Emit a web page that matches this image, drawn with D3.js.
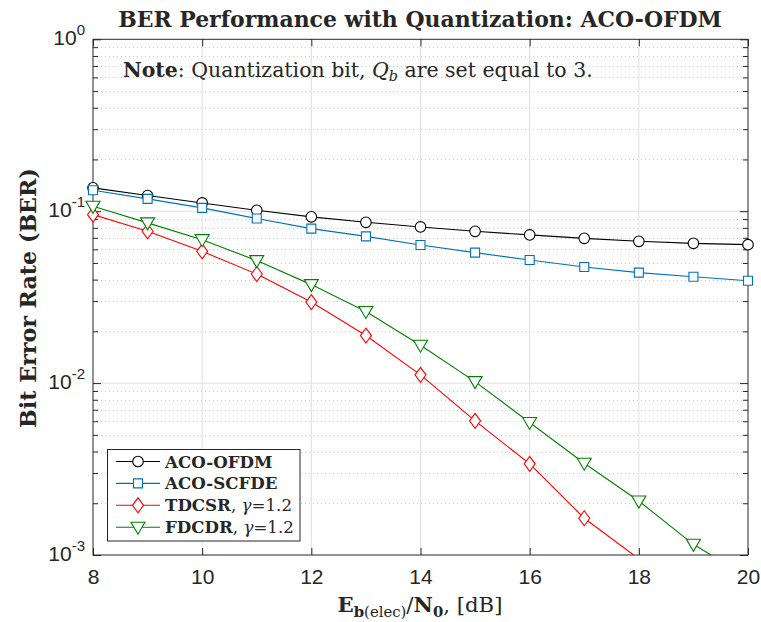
<!DOCTYPE html>
<html>
<head>
<meta charset="utf-8">
<script src="https://cdn.jsdelivr.net/npm/d3@7"></script>
<style>
  body { margin: 0; background: #fff; }
  .serif { font-family: "DejaVu Serif", "Liberation Serif", serif; fill: #262626; }
</style>
</head>
<body>
<div id="vis-container"></div>
<script>
// data
var snr = [8, 9, 10, 11, 12, 13, 14, 15, 16, 17, 18, 19, 20];
var acoOfdm = [0.1367, 0.1233, 0.1117, 0.1012, 0.0927, 0.0862, 0.0810, 0.0764, 0.0728, 0.0695, 0.0668, 0.0650, 0.0639];
var acoScfde = [0.1323, 0.1179, 0.1045, 0.0906, 0.0792, 0.0714, 0.0636, 0.0574, 0.0520, 0.0474, 0.0439, 0.0416, 0.0394];
var tdcsr = [0.0955, 0.0764, 0.0584, 0.0431, 0.0296, 0.0189, 0.01117, 0.00603, 0.00339, 0.001636, 0.00095];
var fdcdr = [0.1068, 0.0855, 0.0683, 0.0516, 0.0374, 0.0261, 0.0166, 0.0102, 0.0059, 0.00342, 0.00206, 0.001154, 0.00074];
var xTicks = [8, 10, 12, 14, 16, 18, 20];
var yTicks = [1e-3, 1e-2, 1e-1, 1];
var yTickExp = ["-3", "-2", "-1", "0"];

var series = [
    {name: "ACO-OFDM", suffix: false, values: acoOfdm, color: "#000000", marker: "circle"},
    {name: "ACO-SCFDE", suffix: false, values: acoScfde, color: "#0072BD", marker: "square"},
    {name: "TDCSR", suffix: true, values: tdcsr, color: "#ff0000", marker: "diamond"},
    {name: "FDCDR", suffix: true, values: fdcdr, color: "#008000", marker: "triangle"}
];

var width = 761, height = 622;
var plot = {left: 93, right: 748, top: 39.3, bottom: 555};

var svg = d3.select("#vis-container").append("svg")
    .attr("width", width).attr("height", height);

var xScale = d3.scaleLinear().domain([8, 20]).range([plot.left, plot.right]);
var yScale = d3.scaleLog().domain([1e-3, 1]).range([plot.bottom, plot.top]);

// minor values for log grid
var minorVals = [];
for (var e = -3; e < 0; e++) {
    for (var m = 2; m <= 9; m++) minorVals.push(m * Math.pow(10, e));
}

// scale font size of a text so that it has the wanted width
function fitText(sel, target) {
    var fs = parseFloat(sel.attr("font-size"));
    var w = sel.node().getComputedTextLength();
    var nfs = fs * target / w;
    sel.attr("font-size", nfs.toFixed(2));
    return nfs;
}

// grid
var grid = svg.append("g");
grid.selectAll(".gx").data(xTicks.slice(1, -1)).enter().append("line")
    .attr("x1", d => xScale(d)).attr("x2", d => xScale(d))
    .attr("y1", plot.top).attr("y2", plot.bottom)
    .attr("stroke", "#dfdfdf").attr("stroke-width", 1);
grid.selectAll(".gy").data(yTicks.slice(1, -1)).enter().append("line")
    .attr("x1", plot.left).attr("x2", plot.right)
    .attr("y1", d => yScale(d)).attr("y2", d => yScale(d))
    .attr("stroke", "#dfdfdf").attr("stroke-width", 1);
grid.selectAll(".gm").data(minorVals).enter().append("line")
    .attr("x1", plot.left).attr("x2", plot.right)
    .attr("y1", d => Math.round(yScale(d)) + 0.5).attr("y2", d => Math.round(yScale(d)) + 0.5)
    .attr("stroke", "#cccccc").attr("stroke-width", 1).attr("stroke-dasharray", "1,3");

// axes (ticks pointing inwards)
var axisColor = "#262626";
function styleAxis(g) {
    g.select(".domain").remove();
    g.selectAll("line").attr("stroke", axisColor);
}
svg.append("g").attr("transform", "translate(0," + plot.bottom + ")")
    .call(d3.axisBottom(xScale).tickValues(xTicks).tickSize(-7).tickPadding(14).tickFormat(d3.format("d")))
    .call(styleAxis)
    .call(g => g.selectAll("text").attr("font-size", 21).attr("fill", axisColor).attr("dy", "0.71em")
        .attr("font-family", "Liberation Sans, Arial, sans-serif"));
svg.append("g").attr("transform", "translate(0," + plot.top + ")")
    .call(d3.axisTop(xScale).tickValues(xTicks).tickSize(-7).tickFormat(""))
    .call(styleAxis);
svg.append("g").attr("transform", "translate(" + plot.left + ",0)")
    .call(d3.axisLeft(yScale).tickValues(yTicks).tickSize(-8).tickFormat(""))
    .call(styleAxis);
svg.append("g").attr("transform", "translate(" + plot.left + ",0)")
    .call(d3.axisLeft(yScale).tickValues(minorVals).tickSize(-5).tickFormat(""))
    .call(styleAxis);
svg.append("g").attr("transform", "translate(" + plot.right + ",0)")
    .call(d3.axisRight(yScale).tickValues(yTicks).tickSize(-8).tickFormat(""))
    .call(styleAxis);
svg.append("g").attr("transform", "translate(" + plot.right + ",0)")
    .call(d3.axisRight(yScale).tickValues(minorVals).tickSize(-5).tickFormat(""))
    .call(styleAxis);

// y tick labels as 10^n
var yLab = svg.append("g").selectAll("text").data(yTicks).enter().append("text")
    .attr("x", plot.left - 8).attr("y", d => yScale(d) + 6)
    .attr("text-anchor", "end").attr("font-size", 21).attr("fill", axisColor)
    .attr("font-family", "Liberation Sans, Arial, sans-serif");
yLab.append("tspan").text("10");
yLab.append("tspan").attr("dy", -10).attr("font-size", 15).text((d, i) => yTickExp[i]);

// frame
svg.append("rect")
    .attr("x", plot.left).attr("y", plot.top)
    .attr("width", plot.right - plot.left).attr("height", plot.bottom - plot.top)
    .attr("fill", "none").attr("stroke", axisColor).attr("stroke-width", 1);

// marker shapes
function markerPath(type) {
    if (type === "circle") return d3.symbol().type(d3.symbolCircle).size(Math.PI * 28)();
    if (type === "square") return "M-4.5,-4.5H4.5V4.5H-4.5Z";
    if (type === "diamond") return "M0,-7.5L5.5,0L0,7.5L-5.5,0Z";
    return "M-7,-5L7,-5L0,7Z";
}

svg.append("clipPath").attr("id", "clip").append("rect")
    .attr("x", plot.left).attr("y", plot.top)
    .attr("width", plot.right - plot.left).attr("height", plot.bottom - plot.top);

var lineGen = d3.line()
    .x((d, i) => xScale(snr[i]))
    .y(d => yScale(d));

var vis = svg.append("g");
series.forEach(s => {
    vis.append("path")
        .attr("d", lineGen(s.values))
        .attr("clip-path", "url(#clip)")
        .attr("fill", "none").attr("stroke", s.color).attr("stroke-width", 1.1);
    vis.selectAll(null).data(s.values.filter(v => v >= 1e-3)).enter().append("path")
        .attr("d", markerPath(s.marker))
        .attr("transform", (d, i) => "translate(" + xScale(snr[i]) + "," + yScale(d) + ")")
        .attr("fill", "#fff").attr("stroke", s.color).attr("stroke-width", 1.1);
});

// note text
var note = svg.append("text").attr("class", "serif")
    .attr("x", 123).attr("y", 77).attr("font-size", 18);
note.append("tspan").attr("font-weight", "bold").text("Note");
note.append("tspan").text(": Quantization bit, ");
note.append("tspan").attr("font-style", "italic").text("Q");
note.append("tspan").attr("font-style", "italic").attr("font-size", "70%").attr("dy", 4).text("b");
note.append("tspan").attr("dy", -4).text(" are set equal to 3.");
fitText(note, 470);

// legend
var leg = svg.append("g");
leg.append("rect")
    .attr("x", 107.5).attr("y", 449.5).attr("width", 192.5).attr("height", 91.5)
    .attr("fill", "#fff").attr("stroke", axisColor).attr("stroke-width", 1);
var rows = leg.selectAll(".row").data(series).enter().append("g")
    .attr("transform", (d, i) => "translate(0," + (461.5 + i * 21.9) + ")");
rows.append("line").attr("x1", 116).attr("x2", 160)
    .attr("stroke", d => d.color).attr("stroke-width", 1.1);
rows.append("path").attr("d", d => markerPath(d.marker))
    .attr("transform", "translate(138,0)")
    .attr("fill", "#fff").attr("stroke", d => d.color).attr("stroke-width", 1.1);
var legText = rows.append("text").attr("class", "serif")
    .attr("x", 165).attr("y", 6).attr("font-size", 16);
legText.append("tspan").attr("font-weight", "bold").text(d => d.name);
legText.filter(d => d.suffix).append("tspan").text(", ");
legText.filter(d => d.suffix).append("tspan").attr("font-style", "italic").text("\u03b3");
legText.filter(d => d.suffix).append("tspan").text("=1.2");
var legSize = fitText(d3.select(legText.nodes()[2]), 127);
legText.attr("font-size", legSize.toFixed(2));

// title
var title = svg.append("text").attr("class", "serif")
    .attr("x", 420).attr("y", 26.5).attr("text-anchor", "middle")
    .attr("font-size", 20).attr("font-weight", "bold")
    .text("BER Performance with Quantization: ACO-OFDM");
fitText(title, 604);

// y label
var yTitle = svg.append("text").attr("class", "serif")
    .attr("transform", "translate(36,298) rotate(-90)")
    .attr("text-anchor", "middle").attr("font-size", 20).attr("font-weight", "bold")
    .text("Bit Error Rate (BER)");
fitText(yTitle, 260);

// x label
var xTitle = svg.append("text").attr("class", "serif")
    .attr("x", 420).attr("y", 612).attr("text-anchor", "middle").attr("font-size", 20);
xTitle.append("tspan").attr("font-weight", "bold").text("E");
xTitle.append("tspan").attr("font-weight", "bold").attr("font-size", "70%").attr("dy", 5).text("b");
xTitle.append("tspan").attr("font-size", "70%").text("(elec)");
xTitle.append("tspan").attr("dy", -5).text("/");
xTitle.append("tspan").attr("font-weight", "bold").text("N");
xTitle.append("tspan").attr("font-weight", "bold").attr("font-size", "70%").attr("dy", 5).text("0");
xTitle.append("tspan").attr("dy", -5).text(", [dB]");
fitText(xTitle, 165);
</script>
</body>
</html>
